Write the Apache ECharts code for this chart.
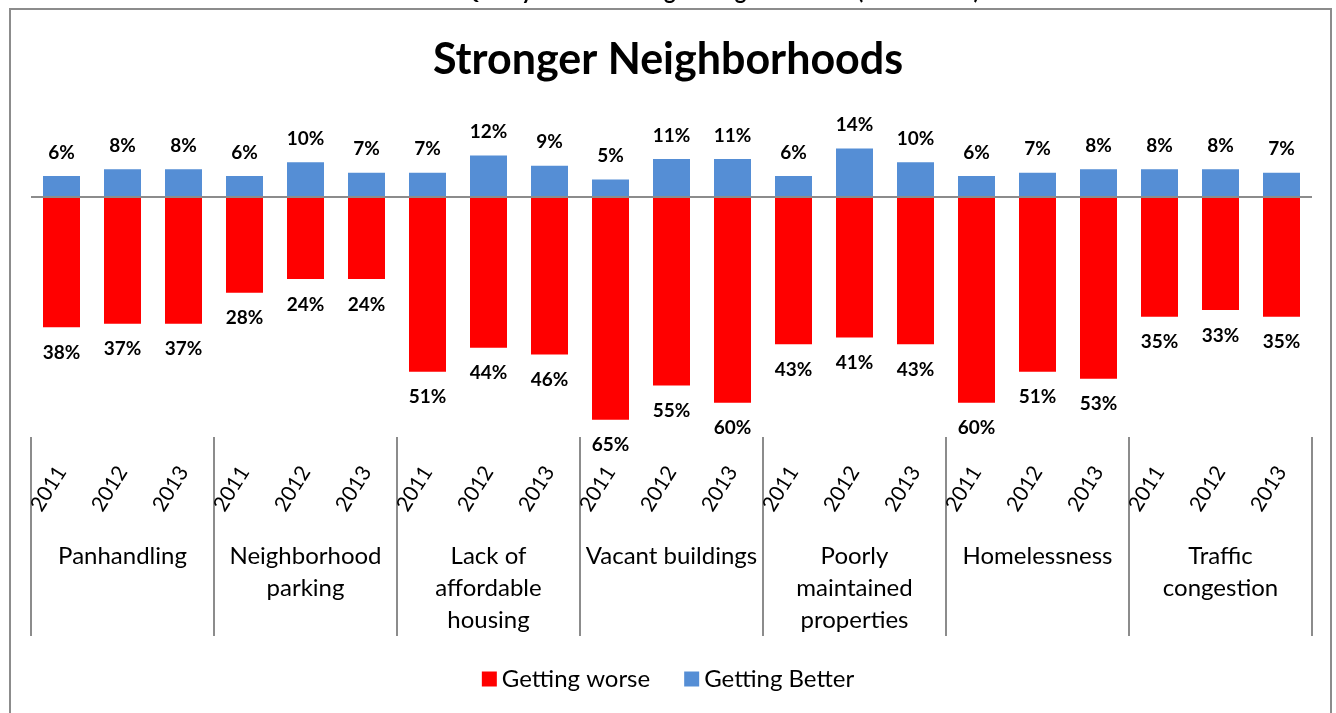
<!DOCTYPE html>
<html>
<head>
<meta charset="utf-8">
<script src="https://cdn.jsdelivr.net/npm/echarts@6/dist/echarts.min.js"></script>
<style>
  html, body { margin: 0; padding: 0; background: #fff; }
  #chart { width: 1336px; height: 713px; }
</style>
</head>
<body>
<div id="chart"></div>
<script>
// 数据
var years = ['2011', '2012', '2013', '2011', '2012', '2013', '2011', '2012', '2013',
             '2011', '2012', '2013', '2011', '2012', '2013', '2011', '2012', '2013',
             '2011', '2012', '2013'];
var groups = ['Panhandling', 'Neighborhood\nparking', 'Lack of\naffordable\nhousing',
              'Vacant buildings', 'Poorly\nmaintained\nproperties', 'Homelessness', 'Traffic\ncongestion'];
var gettingWorse = [38, 37, 37, 28, 24, 24, 51, 44, 46, 65, 55, 60, 43, 41, 43, 60, 51, 53, 35, 33, 35];
var gettingBetter = [6, 8, 8, 6, 10, 7, 7, 12, 9, 5, 11, 11, 6, 14, 10, 6, 7, 8, 8, 8, 7];

var font = 'Lato, "Open Sans", sans-serif';

window.onload = function () {
    var chart = echarts.init(document.getElementById('chart'));

    var option = {
        animation: false,
        textStyle: { fontFamily: font },
        title: {
            text: 'Stronger Neighborhoods',
            left: 'center',
            top: 34,
            textStyle: { fontSize: 43, fontWeight: 'bold', color: '#000', fontFamily: font }
        },
        graphic: [
            {
                type: 'rect',
                shape: { x: 10, y: 9, width: 1321, height: 730 },
                style: { fill: 'none', stroke: '#8c8c8c', lineWidth: 2 },
                silent: true
            },
            {
                // 被截掉的上方标题，只露出底部
                type: 'text',
                x: 675,
                y: 3,
                style: {
                    text: 'Resident Quality of Life: Stronger Neighborhoods (2011-2013)',
                    font: 'bold 22px ' + font,
                    fill: '#000',
                    textAlign: 'center',
                    textVerticalAlign: 'bottom'
                },
                silent: true
            }
        ],
        legend: {
            data: ['Getting worse', 'Getting Better'],
            left: 'center',
            top: 662,
            icon: 'rect',
            itemWidth: 15,
            itemHeight: 15,
            itemGap: 34,
            textStyle: { fontSize: 24, color: '#000', fontFamily: font }
        },
        grid: { left: 31, right: 24, top: 128, bottom: 276, containLabel: false },
        xAxis: [
            {
                type: 'category',
                data: years,
                position: 'bottom',
                axisLine: { show: false },
                axisTick: { show: false },
                axisLabel: {
                    interval: 0,
                    rotate: 58,
                    margin: 31,
                    fontSize: 21,
                    color: '#000',
                    fontFamily: font
                }
            },
            {
                type: 'category',
                data: groups,
                position: 'bottom',
                axisLine: { show: false },
                axisTick: {
                    show: true,
                    interval: 0,
                    length: 199,
                    lineStyle: { color: '#8c8c8c', width: 2 }
                },
                axisLabel: {
                    interval: 0,
                    margin: 103,
                    fontSize: 24,
                    lineHeight: 32,
                    color: '#000',
                    fontFamily: font
                }
            }
        ],
        yAxis: {
            type: 'value',
            min: -70,
            max: 20,
            show: false,
            splitLine: { show: false }
        },
        series: [
            {
                name: 'Getting worse',
                type: 'bar',
                stack: 'total',
                barWidth: 37,
                xAxisIndex: 0,
                data: gettingWorse.map(function (v) { return -v; }),
                itemStyle: { color: '#ff0000' },
                label: {
                    show: true,
                    position: 'bottom',
                    distance: 16,
                    fontSize: 19,
                    fontWeight: 'bold',
                    color: '#000',
                    fontFamily: font,
                    formatter: function (p) { return Math.abs(p.value) + '%'; }
                }
            },
            {
                name: 'Getting Better',
                type: 'bar',
                stack: 'total',
                barWidth: 37,
                xAxisIndex: 0,
                data: gettingBetter,
                itemStyle: { color: '#558ed5' },
                label: {
                    show: true,
                    position: 'top',
                    distance: 14,
                    fontSize: 19,
                    fontWeight: 'bold',
                    color: '#000',
                    fontFamily: font,
                    formatter: '{c}%'
                },
                markLine: {
                    silent: true,
                    symbol: ['none', 'none'],
                    label: { show: false },
                    lineStyle: { color: '#8c8c8c', width: 2, type: 'solid' },
                    data: [{ yAxis: 0 }]
                }
            }
        ]
    };

    chart.setOption(option);
};
</script>
</body>
</html>
